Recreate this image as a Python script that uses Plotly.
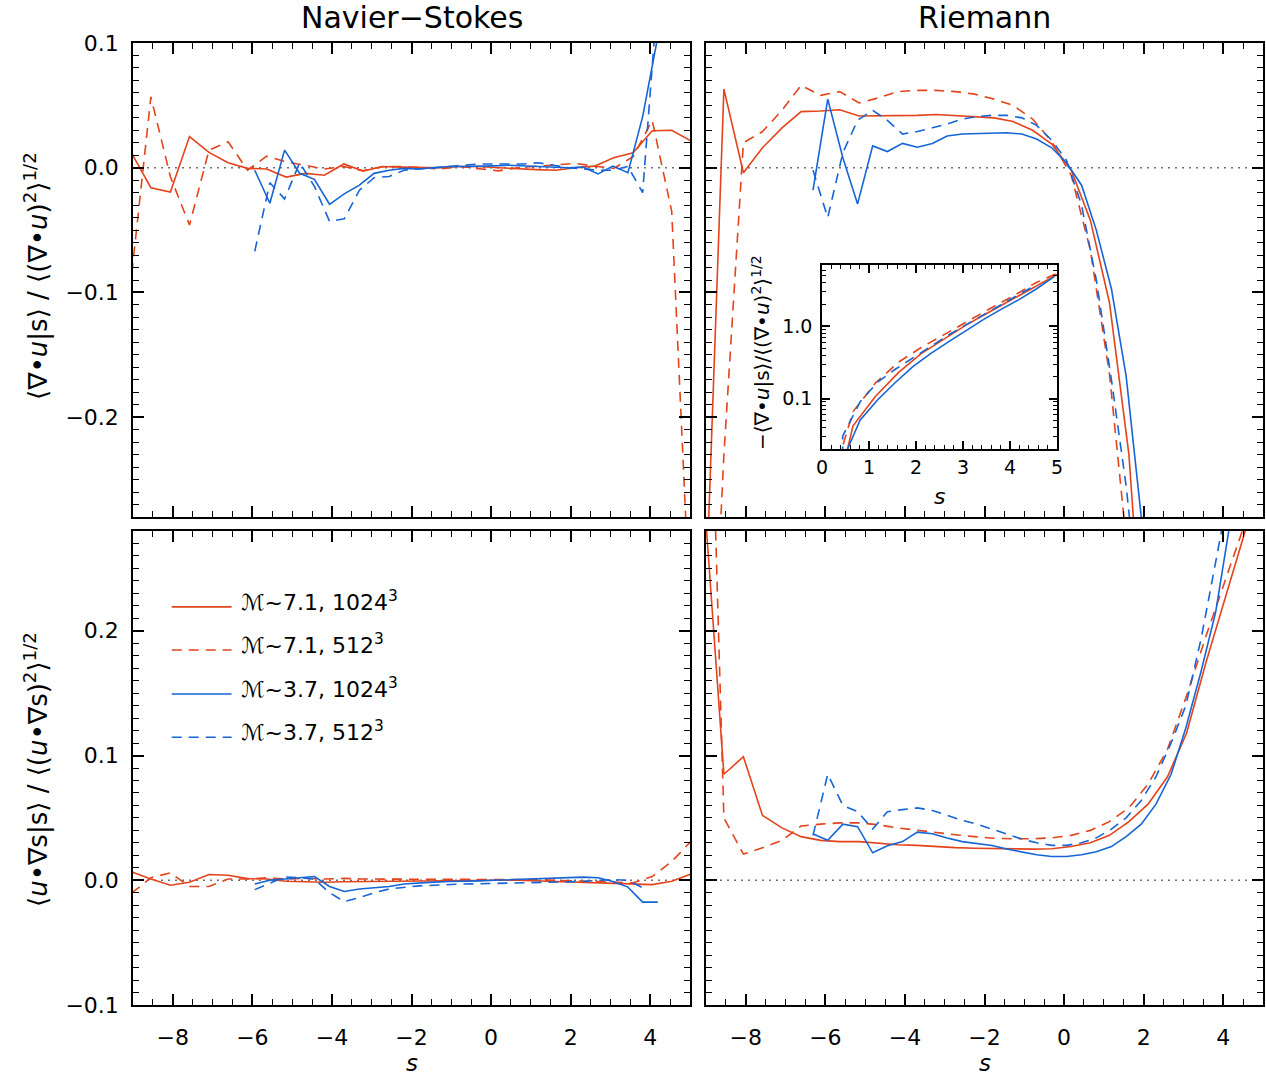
import plotly.graph_objects as go

# ---------------- data ----------------
S_RED = [-9.03, -8.55, -8.06, -7.58, -7.09, -6.61, -6.12, -5.64, -5.15, -4.67,
         -4.19, -3.70, -3.22, -2.73, -2.25, -1.76, -1.28, -0.79, -0.31, 0.18,
         0.66, 1.14, 1.63, 2.11, 2.60, 3.08, 3.57, 4.05, 4.54, 5.02]
S_BLUE = [-6.31, -5.94, -5.56, -5.19, -4.81, -4.44, -4.06, -3.69, -3.31, -2.94,
          -2.56, -2.19, -1.81, -1.44, -1.06, -0.69, -0.31, 0.06, 0.44, 0.81,
          1.19, 1.56, 1.94, 2.31, 2.69, 3.06, 3.44, 3.81, 4.19, 4.56, 4.94]

# Navier-Stokes, <div u | s>
NS_DIV_M7_1024 = [0.0115, -0.016, -0.0195, 0.025, 0.0123, 0.004, -0.0005, -0.001, -0.0075, -0.0045,
                  -0.006, 0.003, -0.0027, 0.001, 0.0005, 0.0, 0.0, 0.001, 0.001, 0.0,
                  -0.001, -0.0015, -0.002, 0.0, 0.0013, 0.008, 0.012, 0.0296, 0.030, 0.0216]
NS_DIV_M7_512 = [-0.0845, 0.0568, -0.0072, -0.0459, 0.0141, 0.0208, -0.002, 0.0093, 0.0048, 0.002,
                 -0.001, 0.001, -0.0024, 0.0008, 0.001, 0.0, -0.001, 0.001, -0.001, -0.0025,
                 0.0, 0.001, 0.0025, 0.0035, 0.0013, -0.0005, 0.0088, 0.038, -0.035, -0.37]
NS_DIV_M4_1024 = [None, -0.002, -0.0285, 0.0141, -0.0045, -0.0093, -0.0293, -0.021, -0.0139, -0.0045,
                  -0.002, -0.0005, -0.001, 0.0, 0.001, 0.001, 0.001, 0.0015, 0.002, 0.0015,
                  0.001, 0.0005, 0.0, 0.0005, -0.005, 0.0013, -0.004, 0.041, 0.105, 0.25, None]
NS_DIV_M4_512 = [None, -0.067, -0.012, -0.025, 0.004, -0.015, -0.043, -0.041, -0.018, -0.008,
                 -0.007, -0.002, -0.001, 0.0, 0.001, 0.002, 0.003, 0.003, 0.003, 0.003,
                 0.004, 0.002, 0.0, -0.001, -0.002, -0.002, 0.001, -0.02, 0.14, 0.4, None]

# Riemann, <div u | s>
RM_DIV_M7_1024 = [-0.37, 0.063, -0.004, 0.016, 0.032, 0.045, 0.0455, 0.0465, 0.0415, 0.0415,
                  0.0415, 0.042, 0.0427, 0.042, 0.0413, 0.040, 0.037, 0.030, 0.019, -0.002,
                  -0.042, -0.108, -0.23, -0.42, -0.67, -1.06, -1.6, -2.4, -3.6, -5.3]
RM_DIV_M7_512 = [-0.55, -0.23, 0.02, 0.029, 0.046, 0.066, 0.058, 0.061, 0.052, 0.056,
                 0.061, 0.062, 0.062, 0.061, 0.059, 0.055, 0.050, 0.039, 0.021, -0.006,
                 -0.066, -0.165, -0.32, -0.51, -0.77, -1.17, -1.76, -2.6, -4.0, -5.5]
RM_DIV_M4_1024 = [-0.018, 0.055, 0.008, -0.029, 0.0175, 0.013, 0.0195, 0.0165, 0.0195, 0.0255,
                  0.027, 0.0275, 0.0278, 0.028, 0.027, 0.023, 0.016, 0.004, -0.014, -0.05,
                  -0.097, -0.167, -0.28, -0.42, -0.61, -0.87, -1.25, -1.72, -2.35, -3.3, -4.9]
RM_DIV_M4_512 = [-0.002, -0.040, 0.012, 0.038, 0.046, 0.038, 0.027, 0.029, 0.032, 0.035,
                 0.039, 0.041, 0.042, 0.042, 0.040, 0.034, 0.022, 0.006, -0.03, -0.09,
                 -0.17, -0.255, -0.37, -0.53, -0.76, -1.05, -1.45, -2.0, -2.75, -3.8, None]

# Navier-Stokes, <u.grad s | s>
NS_ADV_M7_1024 = [0.0067, 0.001, -0.004, -0.0016, 0.0046, 0.004, 0.0013, 0.001, -0.0008, -0.001,
                  -0.0016, -0.0012, -0.001, -0.001, -0.0008, -0.0008, -0.0005, -0.0005, 0.0, 0.0,
                  0.0, -0.0005, -0.0008, -0.001, -0.0016, -0.0025, -0.003, -0.0035, -0.0008, 0.005]
NS_ADV_M7_512 = [-0.0102, 0.002, 0.006, -0.005, -0.005, 0.001, 0.001, 0.002, 0.001, 0.0015,
                 0.001, 0.0015, 0.001, 0.001, 0.001, 0.001, 0.001, 0.001, 0.001, 0.001,
                 0.001, 0.0005, 0.0, -0.0005, -0.0005, -0.001, -0.002, 0.003, 0.015, 0.031]
NS_ADV_M4_1024 = [None, -0.003, 0.0, 0.001, 0.002, 0.003, -0.005, -0.009, -0.007, -0.006,
                  -0.005, -0.003, -0.002, -0.0015, -0.001, -0.001, -0.0005, 0.0, 0.0005, 0.001,
                  0.0015, 0.002, 0.002, 0.0025, 0.002, -0.001, -0.0055, -0.0175, -0.0175, None, None]
NS_ADV_M4_512 = [None, -0.0075, -0.002, 0.0027, 0.002, 0.001, -0.010, -0.017, -0.014, -0.010,
                 -0.007, -0.0055, -0.0045, -0.004, -0.0033, -0.003, -0.0028, -0.0025, -0.0022, -0.002,
                 -0.002, -0.0018, -0.0015, -0.001, 0.0, 0.0005, 0.0, -0.006, None, None, None]

# Riemann, <u.grad s | s>
RM_ADV_M7_1024 = [0.30, 0.085, 0.099, 0.052, 0.042, 0.035, 0.032, 0.031, 0.031, 0.0295,
                  0.0285, 0.028, 0.027, 0.0262, 0.0257, 0.0253, 0.025, 0.025, 0.0253, 0.027,
                  0.030, 0.036, 0.047, 0.061, 0.083, 0.118, 0.175, 0.226, 0.278, 0.33]
RM_ADV_M7_512 = [0.58, 0.05, 0.021, 0.026, 0.032, 0.0435, 0.045, 0.046, 0.046, 0.0445,
                 0.042, 0.040, 0.038, 0.0365, 0.035, 0.0337, 0.0333, 0.0333, 0.034, 0.036,
                 0.040, 0.047, 0.058, 0.077, 0.105, 0.148, 0.196, 0.24, 0.283, 0.33]
RM_ADV_M4_1024 = [0.037, 0.032, 0.045, 0.043, 0.022, 0.0276, 0.031, 0.0386, 0.0373, 0.0338,
                  0.031, 0.0292, 0.0279, 0.025, 0.0225, 0.0204, 0.019, 0.019, 0.0205, 0.0228,
                  0.027, 0.035, 0.045, 0.061, 0.085, 0.122, 0.167, 0.215, 0.29, 0.37, 0.45]
RM_ADV_M4_512 = [0.036, 0.085, 0.060, 0.055, 0.041, 0.055, 0.0566, 0.058, 0.056, 0.052,
                 0.048, 0.045, 0.041, 0.037, 0.033, 0.030, 0.028, 0.028, 0.030, 0.034,
                 0.041, 0.050, 0.064, 0.083, 0.11, 0.14, 0.193, 0.255, 0.32, 0.40, None]

LEGEND_LABELS = ["ℳ~7.1, 1024<sup>3</sup>", "ℳ~7.1, 512<sup>3</sup>",
                 "ℳ~3.7, 1024<sup>3</sup>", "ℳ~3.7, 512<sup>3</sup>"]
X_TICKS = [-8, -6, -4, -2, 0, 2, 4]

# ---------------- style ----------------
RED = "#e4431b"
BLUE = "#1565d6"
DASH = "10px,7px"
FONT = "DejaVu Sans"
W, H = 1266, 1079

STYLES = [(RED, "solid"), (RED, DASH), (BLUE, "solid"), (BLUE, DASH)]

fig = go.Figure()


def add_panel(xa, ya, s_red, s_blue, series, negate=False):
    xs = [s_red, s_red, s_blue, s_blue]
    for (col, dash), x, y in zip(STYLES, xs, series):
        if negate:
            y = [None if v is None else -v for v in y]
        fig.add_trace(go.Scatter(x=x, y=y, mode="lines", xaxis=xa, yaxis=ya,
                                 line=dict(color=col, width=1.6, dash=dash),
                                 showlegend=False, hoverinfo="skip"))


add_panel("x", "y", S_RED, S_BLUE, [NS_DIV_M7_1024, NS_DIV_M7_512, NS_DIV_M4_1024, NS_DIV_M4_512])
add_panel("x2", "y2", S_RED, S_BLUE, [RM_DIV_M7_1024, RM_DIV_M7_512, RM_DIV_M4_1024, RM_DIV_M4_512])
add_panel("x3", "y3", S_RED, S_BLUE, [NS_ADV_M7_1024, NS_ADV_M7_512, NS_ADV_M4_1024, NS_ADV_M4_512])
add_panel("x4", "y4", S_RED, S_BLUE, [RM_ADV_M7_1024, RM_ADV_M7_512, RM_ADV_M4_1024, RM_ADV_M4_512])
add_panel("x5", "y5", S_RED, S_BLUE, [RM_DIV_M7_1024, RM_DIV_M7_512, RM_DIV_M4_1024, RM_DIV_M4_512],
          negate=True)


def px_x(a, b):
    return [a / W, b / W]


def px_y(top, bottom):
    return [1 - bottom / H, 1 - top / H]


XL = px_x(133, 690)
XR = px_x(706, 1263)
YT = px_y(43, 517)
YB = px_y(531, 1005)

tickfont = dict(family=FONT, size=22, color="black")
base = dict(showline=True, linecolor="black", linewidth=1.5, mirror="allticks",
            ticks="inside", ticklen=11, tickwidth=1.5, tickcolor="black",
            showgrid=False, zeroline=False, tickfont=tickfont, automargin=False)

xbase = dict(base, range=[-9, 5], tickvals=X_TICKS,
             minor=dict(ticks="inside", ticklen=6, dtick=0.5, tick0=0, tickcolor="black",
                        tickwidth=1.2, showgrid=False))
ybase = dict(base, tickformat=".1f", dtick=0.1, tick0=0,
             minor=dict(ticks="inside", ticklen=6, dtick=0.01, tick0=0, tickcolor="black",
                        tickwidth=1.2, showgrid=False))

fig.update_layout(
    template="none",
    width=W, height=H, margin=dict(l=0, r=0, t=0, b=0, autoexpand=False),
    paper_bgcolor="white", plot_bgcolor="white",
    font=dict(family=FONT, color="black"),
    xaxis=dict(xbase, domain=XL, anchor="y", showticklabels=False),
    yaxis=dict(ybase, domain=YT, anchor="x", range=[-0.28, 0.1], ticklabelstandoff=8),
    xaxis2=dict(xbase, domain=XR, anchor="y2", showticklabels=False),
    yaxis2=dict(ybase, domain=YT, anchor="x2", range=[-0.28, 0.1], showticklabels=False),
    xaxis3=dict(xbase, domain=XL, anchor="y3", ticklabelstandoff=12),
    yaxis3=dict(ybase, domain=YB, anchor="x3", range=[-0.1, 0.28], ticklabelstandoff=8),
    xaxis4=dict(xbase, domain=XR, anchor="y4", ticklabelstandoff=12),
    yaxis4=dict(ybase, domain=YB, anchor="x4", range=[-0.1, 0.28], showticklabels=False),
    xaxis5=dict(base, domain=px_x(822, 1057), anchor="y5", range=[0, 5], dtick=1, tick0=0,
                ticklen=8, tickfont=dict(family=FONT, size=19),
                minor=dict(ticks="inside", ticklen=4, dtick=0.2, tick0=0, tickcolor="black",
                           tickwidth=1, showgrid=False)),
    yaxis5=dict(base, domain=px_y(265, 449), anchor="x5", type="log",
                range=[-1.699, 0.851], tickvals=[0.1, 1.0], ticktext=["0.1", "1.0"],
                ticklen=8, tickfont=dict(family=FONT, size=19), ticklabelstandoff=4,
                minor=dict(ticks="inside", ticklen=4, tickcolor="black", tickwidth=1,
                           tickvals=[0.02, 0.03, 0.04, 0.05, 0.06, 0.07, 0.08, 0.09,
                                     0.2, 0.3, 0.4, 0.5, 0.6, 0.7, 0.8, 0.9,
                                     2, 3, 4, 5, 6, 7], showgrid=False)),
)

# dotted zero lines
for xr, yr in [("x", "y"), ("x2", "y2"), ("x3", "y3"), ("x4", "y4")]:
    fig.add_shape(type="line", xref=f"{xr} domain", yref=yr, x0=0, x1=1, y0=0, y1=0,
                  line=dict(color="#707070", width=1.5, dash="2px,5px"), layer="below")

# legend (manual, in bottom-left panel)
LEG_LINE_Y = [0.840, 0.749, 0.656, 0.565]
for (col, dash), ly, lab in zip(STYLES, LEG_LINE_Y, LEGEND_LABELS):
    fig.add_shape(type="line", xref="x3 domain", yref="y3 domain", x0=0.0695, x1=0.177,
                  y0=ly, y1=ly, line=dict(color=col, width=1.6, dash=dash))
    fig.add_annotation(xref="x3 domain", yref="y3 domain", x=0.19, y=ly + 0.013,
                       text=lab, showarrow=False, xanchor="left", yanchor="middle",
                       font=dict(family=FONT, size=22, color="black"))

# titles and axis labels
ann = []
ann.append(dict(x=411.5 / W, y=1 - 18 / H, text="Navier−Stokes", font=dict(size=30)))
ann.append(dict(x=984.5 / W, y=1 - 18 / H, text="Riemann", font=dict(size=30)))
ann.append(dict(x=411.5 / W, y=1 - 1063 / H, text="<i>s</i>", font=dict(size=23)))
ann.append(dict(x=984.5 / W, y=1 - 1063 / H, text="<i>s</i>", font=dict(size=23)))
ann.append(dict(x=939 / W, y=1 - 496 / H, text="<i>s</i>", font=dict(size=22)))
ann.append(dict(x=36 / W, y=1 - 276 / H, textangle=-90,
                text="⟨∇•<i>u</i>|s⟩ / ⟨(∇•<i>u</i>)<sup>2</sup>⟩<sup>1/2</sup>",
                font=dict(size=26)))
ann.append(dict(x=36 / W, y=1 - 770 / H, textangle=-90,
                text="⟨<i>u</i>•∇s|s⟩ / ⟨(<i>u</i>•∇s)<sup>2</sup>⟩<sup>1/2</sup>",
                font=dict(size=26)))
ann.append(dict(x=761 / W, y=1 - 353 / H, textangle=-90,
                text="−⟨∇•<i>u</i>|s⟩/⟨(∇•<i>u</i>)<sup>2</sup>⟩<sup>1/2</sup>",
                font=dict(size=20)))
for a in ann:
    f = dict(family=FONT, color="black")
    f.update(a.pop("font"))
    fig.add_annotation(xref="paper", yref="paper", showarrow=False,
                       xanchor="center", yanchor="middle", font=f, **a)

fig.write_html("out.html", config={"displayModeBar": False},
               post_script="document.body.style.margin='0';document.body.style.overflow='hidden';")
